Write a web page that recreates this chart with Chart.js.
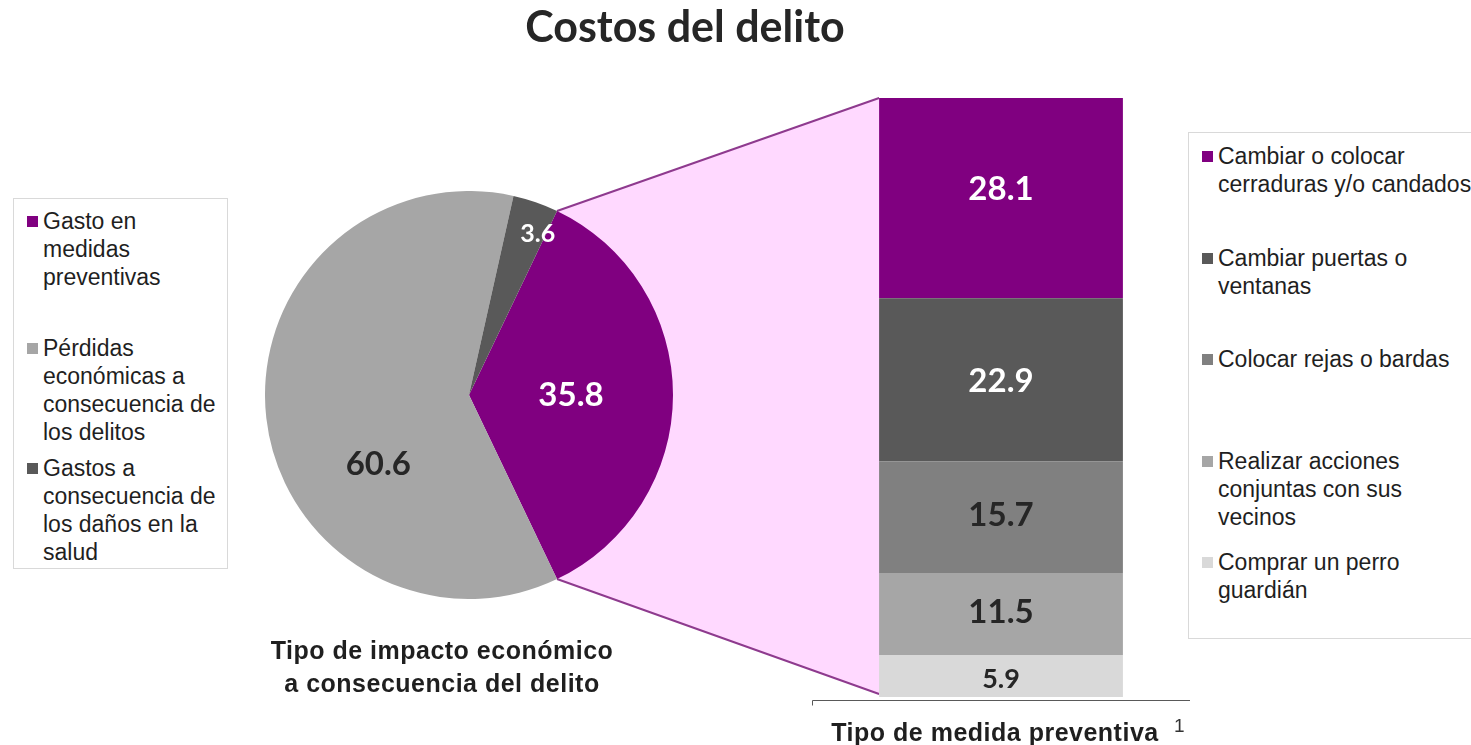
<!DOCTYPE html>
<html lang="es">
<head>
<meta charset="utf-8">
<title>Costos del delito</title>
<script src="https://cdn.jsdelivr.net/npm/chart.js@4.4.1/dist/chart.umd.min.js"></script>
<style>
    body { margin: 0; background: #fff; }
    #page {
        position: relative;
        width: 1471px;
        height: 745px;
        overflow: hidden;
        font-family: 'Liberation Sans', Arial, sans-serif;
        color: #1f1f1f;
    }
    #link { position: absolute; left: 0; top: 0; z-index: 0; }
    #pieWrap { position: absolute; left: 265px; top: 191px; width: 408px; height: 408px; z-index: 1; }
    #barWrap { position: absolute; left: 812px; top: 88px; width: 378px; height: 620px; z-index: 1; }
    .title {
        position: absolute; left: 0; top: -1px; width: 1370px;
        text-align: center;
        font-family: Lato, sans-serif; font-weight: bold;
        font-size: 43px; line-height: 54px; color: #262626;
    }
    .axis-title {
        position: absolute; text-align: center;
        font-weight: bold; font-size: 25px; letter-spacing: 0.5px;
        line-height: 33px; color: #1f1f1f;
    }
    #pieTitle { left: 242px; top: 634px; width: 400px; }
    #barTitle { left: 795px; top: 716px; width: 400px; }
    #footnote { position: absolute; left: 1174px; top: 715px; font-size: 19px; color: #333; }
    .legend {
        position: absolute; z-index: 2;
        border: 1px solid #d9d9d9; background: #fff;
        box-sizing: border-box;
        font-size: 23px; line-height: 28px;
    }
    .legend-item { position: relative; padding-left: 29px; box-sizing: border-box; }
    .swatch { position: absolute; left: 13px; top: 9px; width: 11px; height: 11px; }
    .legend-text { display: block; }
    #pieLegend { left: 13px; top: 198px; width: 215px; height: 371px; padding-top: 8px; }
    #pieLegend .legend-text { width: 180px; }
    #pieLegend .legend-item:nth-child(1) { height: 127px; }
    #pieLegend .legend-item:nth-child(2) { height: 120px; }
    #barLegend { left: 1188px; top: 132px; width: 330px; height: 507px; padding-top: 9px; }
    #barLegend .legend-text { width: 262px; }
    #barLegend .legend-item { height: 101.5px; }
</style>
</head>
<body>
<div id="page">
    <canvas id="link" width="1471" height="745"></canvas>
    <div class="title">Costos del delito</div>
    <div id="pieWrap"><canvas id="pieChart" width="408" height="408"></canvas></div>
    <div id="barWrap"><canvas id="barChart" width="378" height="620"></canvas></div>
    <div class="legend" id="pieLegend"></div>
    <div class="legend" id="barLegend"></div>
    <div class="axis-title" id="pieTitle">Tipo de impacto económico<br>a consecuencia del delito</div>
    <div class="axis-title" id="barTitle">Tipo de medida preventiva</div>
    <div id="footnote">1</div>
</div>

<script>
// Pie: tipo de impacto económico
const impactLabels = [
    'Gasto en medidas preventivas',
    'Pérdidas económicas a consecuencia de los delitos',
    'Gastos a consecuencia de los daños en la salud'
];
const impactValues = [35.8, 60.6, 3.6];
const impactColors = ['#800080', '#a6a6a6', '#595959'];

// Bar: tipo de medida preventiva (legend order, top of the stack first)
const measureCategory = ['Tipo de medida preventiva'];
const measureLabels = [
    'Cambiar o colocar cerraduras y/o candados',
    'Cambiar puertas o ventanas',
    'Colocar rejas o bardas',
    'Realizar acciones conjuntas con sus vecinos',
    'Comprar un perro guardián'
];
const measureValues = [28.1, 22.9, 15.7, 11.5, 5.9];
const measureColors = ['#800080', '#595959', '#808080', '#a6a6a6', '#d9d9d9'];

// label styling
const pieLabelColors = ['#ffffff', '#262626', '#ffffff'];
const pieLabelSizes = [33, 33, 25];
const pieLabelRadius = [0.5, 0.56, 0.86];
const pieLabelShift = [0, -31, 4];
const barLabelColors = ['#ffffff', '#ffffff', '#262626', '#262626', '#262626'];
const barLabelSizes = [33, 33, 33, 33, 27];
const barLabelNudge = [-9, 2, -2, -2, 3];

const LINK_FILL = '#ffd9ff';
const LINK_LINE = '#8e3a8e';

let pieChart = null;
let barChart = null;

/**
 * Plugins
 */
const pieLabelPlugin = {
    id: 'pieLabels',
    afterDatasetsDraw(chart) {
        const ctx = chart.ctx;
        const meta = chart.getDatasetMeta(0);
        ctx.save();
        ctx.textAlign = 'center';
        ctx.textBaseline = 'middle';
        meta.data.forEach((arc, i) => {
            const p = arc.getProps(['x', 'y', 'startAngle', 'endAngle', 'outerRadius'], true);
            const a = (p.startAngle + p.endAngle) / 2 + pieLabelShift[i] * Math.PI / 180;
            const r = p.outerRadius * pieLabelRadius[i];
            ctx.font = `bold ${pieLabelSizes[i]}px Lato, sans-serif`;
            ctx.fillStyle = pieLabelColors[i];
            ctx.fillText(impactValues[i].toFixed(1), p.x + r * Math.cos(a), p.y + r * Math.sin(a));
        });
        ctx.restore();
    }
};

const barLabelPlugin = {
    id: 'barLabels',
    afterDatasetsDraw(chart) {
        const ctx = chart.ctx;
        ctx.save();
        ctx.textAlign = 'center';
        ctx.textBaseline = 'middle';
        chart.data.datasets.forEach((ds, di) => {
            const idx = ds.legendIndex;
            chart.getDatasetMeta(di).data.forEach(bar => {
                const p = bar.getProps(['x', 'y', 'base'], true);
                ctx.font = `bold ${barLabelSizes[idx]}px Lato, sans-serif`;
                ctx.fillStyle = barLabelColors[idx];
                ctx.fillText(measureValues[idx].toFixed(1), p.x, (p.y + p.base) / 2 + barLabelNudge[idx]);
            });
        });
        ctx.restore();
    }
};

const axisLinePlugin = {
    id: 'axisLine',
    afterDraw(chart) {
        const ctx = chart.ctx;
        const y = Math.round(chart.chartArea.bottom) + 3.5;
        ctx.save();
        ctx.strokeStyle = '#595959';
        ctx.lineWidth = 1;
        ctx.beginPath();
        ctx.moveTo(0.5, y + 5);
        ctx.lineTo(0.5, y);
        ctx.lineTo(chart.width, y);
        ctx.stroke();
        ctx.restore();
    }
};

/**
 * Charts
 */
function initPie() {
    const total = impactValues.reduce((s, v) => s + v, 0);
    pieChart = new Chart(document.getElementById('pieChart'), {
        type: 'pie',
        data: {
            labels: impactLabels,
            datasets: [{
                data: impactValues,
                backgroundColor: impactColors,
                borderWidth: 0
            }]
        },
        options: {
            responsive: false,
            animation: false,
            events: [],
            // first slice centred on the right-hand side, facing the bar
            rotation: 90 - (impactValues[0] / total) * 180,
            layout: { padding: 0 },
            plugins: {
                legend: { display: false },
                tooltip: { enabled: false }
            }
        },
        plugins: [pieLabelPlugin]
    });
}

function initBar() {
    const total = measureValues.reduce((s, v) => s + v, 0);
    // bottom of the stack is the last legend entry
    const datasets = measureLabels.map((label, i) => ({
        label,
        legendIndex: i,
        data: [measureValues[i]],
        backgroundColor: measureColors[i],
        borderWidth: 0,
        barPercentage: 0.645,
        categoryPercentage: 1
    })).reverse();

    barChart = new Chart(document.getElementById('barChart'), {
        type: 'bar',
        data: { labels: measureCategory, datasets },
        options: {
            responsive: false,
            animation: false,
            events: [],
            layout: { padding: { top: 10, bottom: 11, left: 0, right: 0 } },
            scales: {
                x: { stacked: true, display: false },
                y: { stacked: true, display: false, min: 0, max: total }
            },
            plugins: {
                legend: { display: false },
                tooltip: { enabled: false }
            }
        },
        plugins: [barLabelPlugin, axisLinePlugin]
    });
}

/**
 * Pink band joining the purple slice to the stacked bar
 */
function offsetOf(id) {
    const page = document.getElementById('page').getBoundingClientRect();
    const r = document.getElementById(id).getBoundingClientRect();
    return { x: r.left - page.left, y: r.top - page.top };
}

function drawLink() {
    const ctx = document.getElementById('link').getContext('2d');
    const po = offsetOf('pieChart');
    const bo = offsetOf('barChart');

    const arc = pieChart.getDatasetMeta(0).data[0].getProps(['x', 'y', 'startAngle', 'endAngle', 'outerRadius'], true);
    const p1 = { x: po.x + arc.x + arc.outerRadius * Math.cos(arc.startAngle), y: po.y + arc.y + arc.outerRadius * Math.sin(arc.startAngle) };
    const p2 = { x: po.x + arc.x + arc.outerRadius * Math.cos(arc.endAngle), y: po.y + arc.y + arc.outerRadius * Math.sin(arc.endAngle) };

    const metas = barChart.data.datasets.map((d, i) => barChart.getDatasetMeta(i));
    const topBar = metas[metas.length - 1].data[0].getProps(['x', 'y', 'width'], true);
    const bottomBar = metas[0].data[0].getProps(['x', 'base', 'width'], true);
    const b1 = { x: bo.x + topBar.x - topBar.width / 2, y: bo.y + topBar.y };
    const b2 = { x: bo.x + bottomBar.x - bottomBar.width / 2, y: bo.y + bottomBar.base - 3 };

    ctx.fillStyle = LINK_FILL;
    ctx.beginPath();
    ctx.moveTo(p1.x - 20, p1.y);
    ctx.lineTo(p1.x, p1.y);
    ctx.lineTo(b1.x, b1.y);
    ctx.lineTo(b2.x + 2, b2.y + 3);
    ctx.lineTo(b2.x, b2.y);
    ctx.lineTo(p2.x, p2.y);
    ctx.lineTo(p2.x - 20, p2.y);
    ctx.closePath();
    ctx.fill();

    ctx.strokeStyle = LINK_LINE;
    ctx.lineWidth = 2;
    ctx.beginPath();
    ctx.moveTo(p1.x, p1.y);
    ctx.lineTo(b1.x, b1.y);
    ctx.moveTo(p2.x, p2.y);
    ctx.lineTo(b2.x, b2.y);
    ctx.stroke();
}

/**
 * Legends (HTML so the long labels can wrap)
 */
function buildLegend(id, labels, colors) {
    const el = document.getElementById(id);
    labels.forEach((text, i) => {
        const item = document.createElement('div');
        item.className = 'legend-item';
        item.innerHTML = `<span class="swatch" style="background:${colors[i]}"></span><span class="legend-text">${text}</span>`;
        el.appendChild(item);
    });
}

buildLegend('pieLegend', impactLabels, impactColors);
buildLegend('barLegend', measureLabels, measureColors);
initPie();
initBar();
drawLink();
</script>
</body>
</html>
